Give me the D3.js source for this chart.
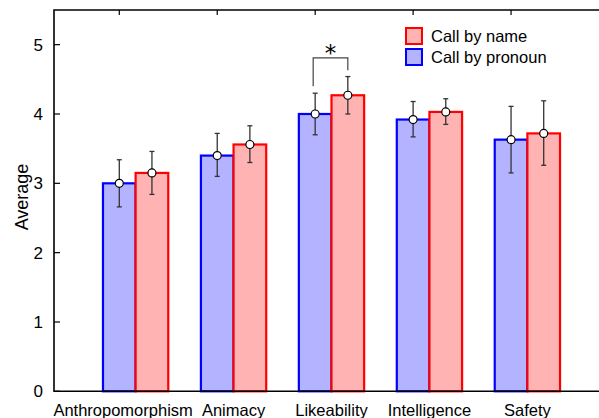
<!DOCTYPE html>
<html lang="en">
<head>
    <meta charset="UTF-8">
    <script src="https://d3js.org/d3.v7.min.js"></script>
    <style>
        body { margin: 0; background: #fff; }
        svg { display: block; font-family: "Liberation Sans", Arial, sans-serif; }
    </style>
</head>
<body>
    <figure style="margin:0"></figure>
    <script>
        // data
        const categories = ["Anthropomorphism", "Animacy", "Likeability", "Intelligence", "Safety"];
        const seriesNames = ["Call by pronoun", "Call by name"];
        const pronounMean = [3.00, 3.40, 4.00, 3.92, 3.63];
        const pronounLow  = [2.66, 3.10, 3.70, 3.67, 3.15];
        const pronounHigh = [3.34, 3.72, 4.30, 4.18, 4.11];
        const nameMean = [3.15, 3.56, 4.27, 4.03, 3.72];
        const nameLow  = [2.84, 3.30, 4.00, 3.85, 3.26];
        const nameHigh = [3.46, 3.83, 4.54, 4.22, 4.19];
        const yTicks = [0, 1, 2, 3, 4, 5];
        // significance bracket over Likeability
        const sigCategory = "Likeability";
        const sigTop = 4.81, sigLeftEnd = 4.40, sigRightEnd = 4.63;

        const w = 599, h = 418;
        const pLeft = 54, pTop = 10, pBottom = 391.3, pRight = 609;

        const svg = d3.select("figure").append("svg")
            .attr("width", w)
            .attr("height", h);

        //scales
        const xScale = d3.scaleBand()
            .domain(categories)
            .range([pLeft, pRight])
            .paddingInner(1 / 3)
            .paddingOuter(0.5);

        const xSub = d3.scaleBand()
            .domain(seriesNames)
            .range([0, xScale.bandwidth()]);

        const yScale = d3.scaleLinear()
            .domain([0, 5.5])
            .range([pBottom, pTop]);

        const fills = { "Call by pronoun": "#b3b3ff", "Call by name": "#ffb3b3" };
        const strokes = { "Call by pronoun": "#0000ff", "Call by name": "#ff0000" };

        const rows = [];
        categories.forEach((c, i) => {
            rows.push({ cat: c, s: "Call by pronoun", m: pronounMean[i], lo: pronounLow[i], hi: pronounHigh[i] });
            rows.push({ cat: c, s: "Call by name", m: nameMean[i], lo: nameLow[i], hi: nameHigh[i] });
        });
        const cx = d => xScale(d.cat) + xSub(d.s) + xSub.bandwidth() / 2;

        //bars
        svg.selectAll("rect.bar")
            .data(rows)
            .enter()
            .append("rect")
            .attr("class", "bar")
            .attr("x", d => xScale(d.cat) + xSub(d.s))
            .attr("y", d => yScale(d.m))
            .attr("width", xSub.bandwidth())
            .attr("height", d => yScale(0) - yScale(d.m))
            .attr("fill", d => fills[d.s])
            .attr("stroke", d => strokes[d.s])
            .attr("stroke-width", 2.2);

        //error bars
        const eb = svg.selectAll("g.err")
            .data(rows)
            .enter()
            .append("g")
            .attr("class", "err")
            .attr("stroke", "#333")
            .attr("stroke-width", 1.3);
        eb.append("line")
            .attr("x1", cx).attr("x2", cx)
            .attr("y1", d => yScale(d.lo)).attr("y2", d => yScale(d.hi));
        eb.append("line")
            .attr("x1", d => cx(d) - 2.5).attr("x2", d => cx(d) + 2.5)
            .attr("y1", d => yScale(d.hi)).attr("y2", d => yScale(d.hi));
        eb.append("line")
            .attr("x1", d => cx(d) - 2.5).attr("x2", d => cx(d) + 2.5)
            .attr("y1", d => yScale(d.lo)).attr("y2", d => yScale(d.lo));
        svg.selectAll("circle.mean")
            .data(rows)
            .enter()
            .append("circle")
            .attr("class", "mean")
            .attr("cx", cx)
            .attr("cy", d => yScale(d.m))
            .attr("r", 4)
            .attr("fill", "#fff")
            .attr("stroke", "#000")
            .attr("stroke-width", 1.2);

        //significance bracket
        const bx1 = xScale(sigCategory) + xSub.bandwidth() / 2 - 2;
        const bx2 = xScale(sigCategory) + xSub(seriesNames[1]) + xSub.bandwidth() / 2;
        svg.append("path")
            .attr("d", "M" + bx1 + "," + yScale(sigLeftEnd) + "V" + yScale(sigTop) +
                "H" + bx2 + "V" + yScale(sigRightEnd))
            .attr("fill", "none")
            .attr("stroke", "#444")
            .attr("stroke-width", 1.2);
        svg.append("text")
            .attr("x", (bx1 + bx2) / 2)
            .attr("y", yScale(sigTop) + 3)
            .attr("text-anchor", "middle")
            .attr("font-family", "DejaVu Sans")
            .attr("font-size", 23)
            .text("*");

        //frame
        svg.append("path")
            .attr("d", "M" + pRight + "," + pTop + "H" + pLeft + "V" + pBottom + "H" + pRight)
            .attr("fill", "none")
            .attr("stroke", "#000")
            .attr("stroke-width", 1.6);

        //y axis ticks
        svg.selectAll("line.ytick")
            .data(yTicks)
            .enter()
            .append("line")
            .attr("x1", pLeft).attr("x2", pLeft + 6)
            .attr("y1", d => yScale(d)).attr("y2", d => yScale(d))
            .attr("stroke", "#000").attr("stroke-width", 1.2);
        svg.selectAll("text.ytick")
            .data(yTicks)
            .enter()
            .append("text")
            .attr("x", pLeft - 11)
            .attr("y", d => yScale(d) + 6)
            .attr("text-anchor", "end")
            .attr("font-size", 17)
            .text(d => d);

        //top ticks
        svg.selectAll("line.xtick")
            .data(categories)
            .enter()
            .append("line")
            .attr("x1", d => xScale(d) + xSub.bandwidth() / 2)
            .attr("x2", d => xScale(d) + xSub.bandwidth() / 2)
            .attr("y1", pTop).attr("y2", pTop + 5)
            .attr("stroke", "#000").attr("stroke-width", 1.2);

        //x labels
        svg.selectAll("text.xlab")
            .data(categories)
            .enter()
            .append("text")
            .attr("x", (d, i) => xScale(d) + xScale.bandwidth() / 2 + (i === 0 ? -12.5 : 0))
            .attr("y", 416)
            .attr("text-anchor", "middle")
            .attr("font-size", 16.5)
            .text(d => d);

        svg.append("text")
            .attr("transform", "translate(28,197) rotate(-90)")
            .attr("text-anchor", "middle")
            .attr("font-size", 18)
            .text("Average");

        //legend
        const legend = svg.append("g").attr("transform", "translate(405,27)");
        const legendOrder = ["Call by name", "Call by pronoun"];
        legend.selectAll("rect")
            .data(legendOrder)
            .enter()
            .append("rect")
            .attr("x", 1).attr("y", (d, i) => 1 + i * 21)
            .attr("width", 16).attr("height", 16)
            .attr("fill", d => fills[d])
            .attr("stroke", d => strokes[d])
            .attr("stroke-width", 2);
        legend.selectAll("text")
            .data(legendOrder)
            .enter()
            .append("text")
            .attr("x", 26).attr("y", (d, i) => 15 + i * 21)
            .attr("font-size", 16.5)
            .text(d => d);
    </script>
</body>
</html>
